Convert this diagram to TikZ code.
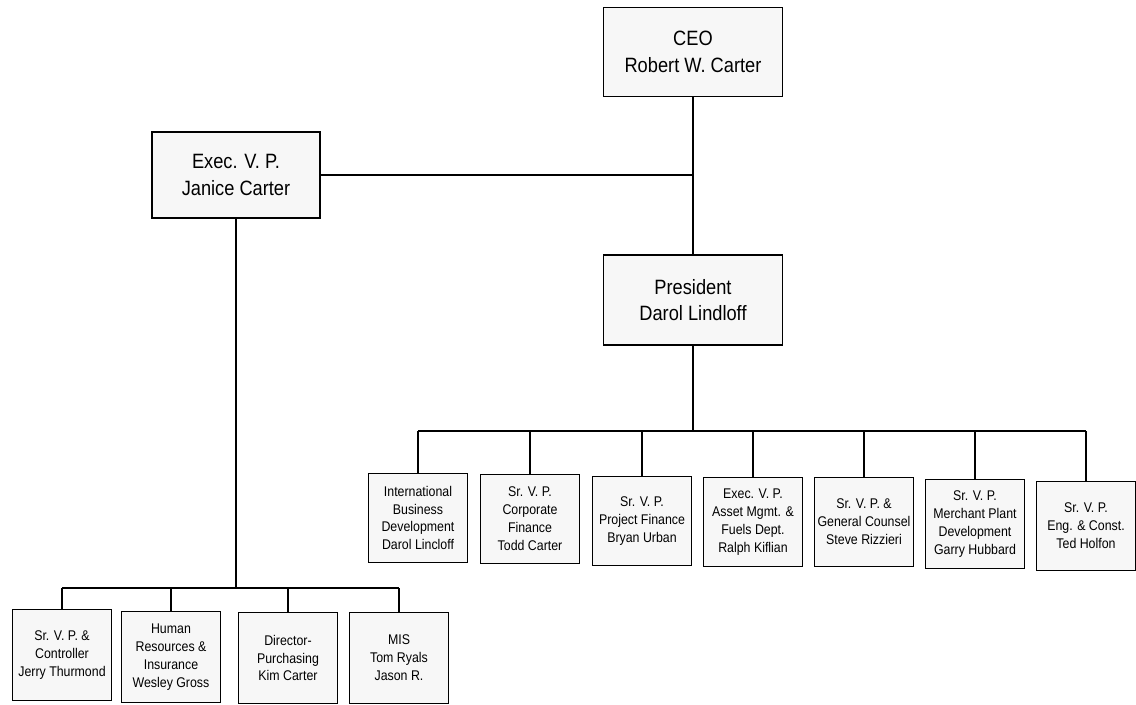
\documentclass[tikz,border=0pt]{standalone}
\usepackage{fontspec}
\setmainfont{Liberation Sans}
\newfontfamily\orgfont[FakeStretch=0.88]{Liberation Sans}

\begin{document}
\begin{tikzpicture}[x=0.02cm, y=-0.02cm]
    \tikzset{
        bigbox/.style={draw, line width=1.1pt, fill=gray!6, align=center,
            inner sep=0pt, minimum width=3.58cm, minimum height=1.78cm,
            font=\orgfont\fontsize{11.8}{15}\selectfont},
        smallbox/.style={draw, line width=1pt, fill=gray!6, align=center,
            inner sep=0pt, minimum width=1.98cm, minimum height=1.78cm,
            font=\orgfont\fontsize{8}{10.2}\selectfont},
        wire/.style={line width=0.9pt}
    }
    \useasboundingbox (0,0) rectangle (1136,704);

    \node[bigbox] (ceo) at (693,52) {CEO\\Robert W. Carter};
    \node[bigbox, minimum width=3.36cm, minimum height=1.72cm] (evp) at (236,175)
        {Exec. V. P.\\Janice Carter};
    \node[bigbox, minimum height=1.8cm] (pres) at (693,300) {President\\Darol Lindloff};

    \draw[wire] (ceo.south) -- (pres.north);
    \draw[wire] (evp.east) -- (evp.east -| ceo.south);

    % president's staff
    \node[smallbox] (intl) at (418,518) {International\\Business\\Development\\Darol Lincloff};
    \node[smallbox] (corp) at (530,519) {Sr. V. P.\\Corporate\\Finance\\Todd Carter};
    \node[smallbox] (proj) at (642,521) {Sr. V. P.\\Project Finance\\Bryan Urban};
    \node[smallbox] (asset) at (753,522) {Exec. V. P.\\Asset Mgmt. \&\\Fuels Dept.\\Ralph Kiflian};
    \node[smallbox] (counsel) at (864,522) {Sr. V. P. \&\\General Counsel\\Steve Rizzieri};
    \node[smallbox] (plant) at (975,524) {Sr. V. P.\\Merchant Plant\\Development\\Garry Hubbard};
    \node[smallbox] (eng) at (1086,526) {Sr. V. P.\\Eng. \& Const.\\Ted Holfon};

    \coordinate (presbus) at (693,431);
    \draw[wire] (pres.south) -- (presbus);
    \draw[wire] (presbus -| intl.north) -- (presbus -| eng.north);
    \foreach \n in {intl,corp,proj,asset,counsel,plant,eng}
        \draw[wire] (presbus -| \n.north) -- (\n.north);

    % exec. v. p. staff
    \node[smallbox, minimum height=1.82cm] (ctrl) at (62,655) {Sr. V. P. \&\\Controller\\Jerry Thurmond};
    \node[smallbox, minimum height=1.82cm] (hr) at (171,657) {Human\\Resources \&\\Insurance\\Wesley Gross};
    \node[smallbox, minimum height=1.82cm] (purch) at (288,658) {Director-\\Purchasing\\Kim Carter};
    \node[smallbox, minimum height=1.82cm] (mis) at (399,658) {MIS\\Tom Ryals\\Jason R.};

    \coordinate (evpbus) at (236,588);
    \draw[wire] (evp.south) -- (evpbus);
    \draw[wire] (evpbus -| ctrl.north) -- (evpbus -| mis.north);
    \foreach \n in {ctrl,hr,purch,mis}
        \draw[wire] (evpbus -| \n.north) -- (\n.north);
\end{tikzpicture}
\end{document}
